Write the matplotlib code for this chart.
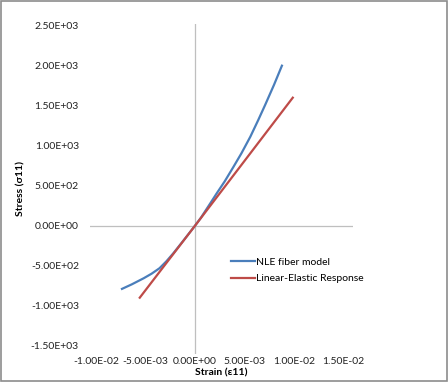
import matplotlib
matplotlib.use('agg')
import matplotlib.pyplot as plt
from matplotlib.patches import Rectangle

plt.rcParams['font.family'] = ['Lato', 'DejaVu Sans']

# NLE fiber model
nle_strain = [-0.0074, -0.0064, -0.0052, -0.0044, -0.0036, -0.0029, -0.0022, -0.0012, -0.0006, 0.0,
              0.0006, 0.0011, 0.0016, 0.0022, 0.0030, 0.0039, 0.0047, 0.0056, 0.0064, 0.0071, 0.0080, 0.0088]
nle_stress = [-790, -733, -657, -600, -532, -445, -345, -190, -95, 0,
              100, 195, 290, 405, 553, 737, 905, 1112, 1320, 1509, 1761, 2000]

# Linear-elastic response
lin_strain = [-0.0056, 0.0, 0.0099]
lin_stress = [-900, 0, 1600]

xticks = [-0.01, -0.005, 0.0, 0.005, 0.01, 0.015]
yticks = [-1500, -1000, -500, 0, 500, 1000, 1500, 2000, 2500]

W, H = 448, 382
fig = plt.figure(figsize=(W / 100, H / 100), dpi=100)
ax = fig.add_axes([90 / W, 1 - 354 / H, 263 / W, 330 / H])

ax.plot(nle_strain, nle_stress, color='#4a7ebb', lw=1.6, label='NLE fiber model',
        solid_joinstyle='round')
ax.plot(lin_strain, lin_stress, color='#be4b48', lw=1.6, label='Linear-Elastic Response')

ax.axhline(0, color='#bfbfbf', lw=0.9, zorder=0)
ax.axvline(0, color='#bfbfbf', lw=0.9, zorder=0)
for s in ax.spines.values():
    s.set_visible(False)

ax.set_xlim(-0.01064, 0.0160)
ax.set_ylim(-1604, 2521)
ax.set_xticks(xticks)
ax.set_yticks(yticks)
ax.set_xticklabels(['%.2E' % v if v != 0 else '0.00E+00' for v in xticks])
ax.set_yticklabels(['%.2E' % v for v in yticks])
ax.tick_params(length=0, labelsize=7.5, colors='#222222')
ax.tick_params(axis='y', pad=8)
ax.tick_params(axis='x', pad=2)

ax.set_xlabel('Strain (ε11)', fontsize=7.5, fontweight='bold', labelpad=2)
ax.set_ylabel('Stress (σ11)', fontsize=7.5, fontweight='bold', labelpad=4)

ax.legend(loc='upper left', bbox_to_anchor=(222 / W, 1 - 248 / H), bbox_transform=fig.transFigure,
          frameon=False, fontsize=7.5, handlelength=2.3, handletextpad=0.1, labelspacing=0.7)

fig.patches.append(Rectangle((0.002, 0.002), 0.995, 0.995, transform=fig.transFigure,
                             fill=False, edgecolor='#8c8c8c', lw=1.2))

fig.savefig('out.png', dpi=100)
